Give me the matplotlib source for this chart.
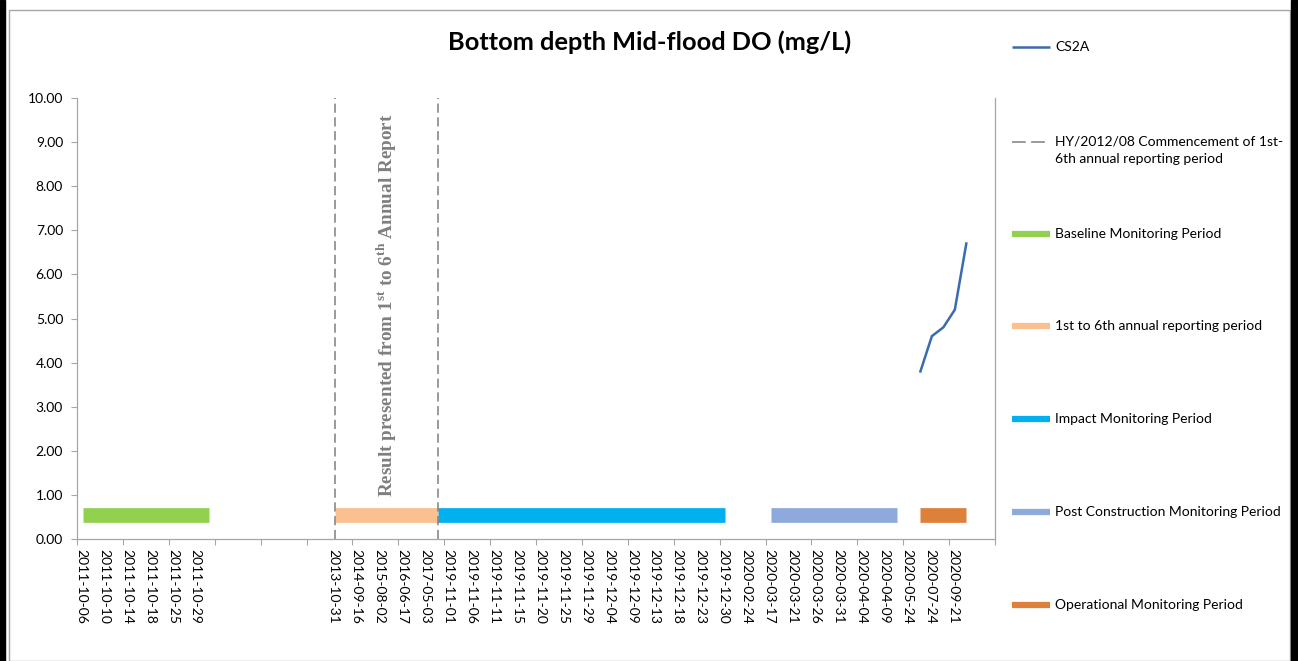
import matplotlib.pyplot as plt
from matplotlib.lines import Line2D
from matplotlib.patches import Rectangle
import matplotlib.transforms as mtransforms

plt.rcParams['font.family'] = ['Lato', 'DejaVu Sans']
plt.rcParams['mathtext.fontset'] = 'custom'
plt.rcParams['mathtext.rm'] = 'Liberation Serif:bold'

# category axis labels (blank ones are the gap between 2011 and 2013)
categories = ['2011-10-06', '2011-10-10', '2011-10-14', '2011-10-18', '2011-10-25', '2011-10-29',
              '', '', '', '', '',
              '2013-10-31', '2014-09-16', '2015-08-02', '2016-06-17', '2017-05-03',
              '2019-11-01', '2019-11-06', '2019-11-11', '2019-11-15', '2019-11-20', '2019-11-25',
              '2019-11-29', '2019-12-04', '2019-12-09', '2019-12-13', '2019-12-18', '2019-12-23',
              '2019-12-30', '2020-02-24', '2020-03-17', '2020-03-21', '2020-03-26', '2020-03-31',
              '2020-04-04', '2020-04-09', '2020-05-24', '2020-07-24', '2020-09-21']
n_slots = 40

# CS2A series (category positions, mg/L)
cs2a_pos = [36.75, 37.25, 37.75, 38.25, 38.75]
cs2a_do = [3.8, 4.6, 4.8, 5.2, 6.7]

# monitoring periods drawn as thick bars
period_names = ['Baseline Monitoring Period', '1st to 6th annual reporting period',
                'Impact Monitoring Period', 'Post Construction Monitoring Period',
                'Operational Monitoring Period']
period_start = [0.25, 11.25, 15.75, 30.25, 36.75]
period_end = [5.75, 15.75, 28.25, 35.75, 38.75]
period_colors = ['#92D050', '#FAC090', '#00B0F0', '#8EA9DB', '#DD8039']
period_level = 0.55

# HY/2012/08 reporting period markers
marker_pos = [11.25, 15.75]

W, H = 1298, 661
fig = plt.figure(figsize=(W / 100, H / 100), dpi=100)


def fx(x):
    return x / W


def fy(y):
    return 1 - y / H


ax = fig.add_axes([fx(77), fy(539), fx(995 - 77), (539 - 98) / H])
ax.set_xlim(0, n_slots)
ax.set_ylim(0, 10)

line_blue = '#3A6BB0'
ax.plot(cs2a_pos, cs2a_do, color=line_blue, lw=1.8)

for s, e, c in zip(period_start, period_end, period_colors):
    ax.plot([s, e], [period_level, period_level], color=c, lw=10.6, solid_capstyle='butt')

for m in marker_pos:
    ax.plot([m, m], [0, 10], color='#7F7F7F', lw=1.1, dashes=(6, 3))

ax.text(13.5, 5.3, r'Result presented from 1$^{\mathrm{st}}$ to 6$^{\mathrm{th}}$ Annual Report',
        rotation=90, ha='center', va='center', color='#7F7F7F', fontsize=13.8,
        family='Liberation Serif', fontweight='bold')

# axes styling
axis_gray = '#A6A6A6'
for side in ['left', 'bottom', 'right']:
    ax.spines[side].set_color(axis_gray)
    ax.spines[side].set_linewidth(0.9)
ax.spines['top'].set_visible(False)

ax.set_yticks(range(0, 11))
ax.set_yticklabels([f'{v:.2f}' for v in range(0, 11)])
ax.tick_params(axis='y', direction='out', length=4, color=axis_gray, labelsize=10, pad=6)

ax.xaxis.remove_overlapping_locs = False
ax.set_xticks(range(0, n_slots + 1, 2))
ax.set_xticklabels([])
ax.tick_params(axis='x', which='major', direction='out', length=4, color=axis_gray)
ax.set_xticks(range(len(categories)), minor=True)
ax.set_xticklabels(categories, minor=True, rotation=270, fontsize=10)
ax.tick_params(axis='x', which='minor', length=0, pad=7)
shift = mtransforms.ScaledTranslation(4 / 100, 0, fig.dpi_scale_trans)
for lbl in ax.get_xticklabels(minor=True):
    lbl.set_transform(lbl.get_transform() + shift)

fig.text(fx(650), fy(42), 'Bottom depth Mid-flood DO (mg/L)', ha='center', va='center',
         fontsize=18.3, fontweight='bold')

# legend, drawn by hand to match the spread-out layout
leg_labels = ['CS2A', 'HY/2012/08 Commencement of 1st-\n6th annual reporting period'] + period_names
leg_colors = [line_blue, '#7F7F7F'] + period_colors
leg_widths = [1.8, 1.1] + [4.5] * len(period_names)
leg_y = [47, 142, 234, 326, 419, 512, 605]
for i, (lab, c, w, y) in enumerate(zip(leg_labels, leg_colors, leg_widths, leg_y)):
    ln = Line2D([fx(1012), fx(1050)], [fy(y), fy(y)], transform=fig.transFigure,
                color=c, lw=w, solid_capstyle='butt')
    if i == 1:
        ln.set_dashes((9, 3.5))
    fig.add_artist(ln)
    if '\n' in lab:
        fig.text(fx(1055), fy(y - 7), lab, ha='left', va='top', fontsize=10, linespacing=1.6)
    else:
        fig.text(fx(1055), fy(y), lab, ha='left', va='center', fontsize=10)

# chart frame
fig.add_artist(Rectangle((fx(8.5), fy(660.5)), fx(1289.5 - 8.5), (660.5 - 9.5) / H,
                         transform=fig.transFigure, fill=False, edgecolor='#A6A6A6', lw=1))
fig.add_artist(Rectangle((0, 0), fx(5), 1, transform=fig.transFigure, color='black'))
fig.add_artist(Rectangle((fx(1291), 0), fx(7), 1, transform=fig.transFigure, color='black'))

fig.savefig('out.png', dpi=100)
